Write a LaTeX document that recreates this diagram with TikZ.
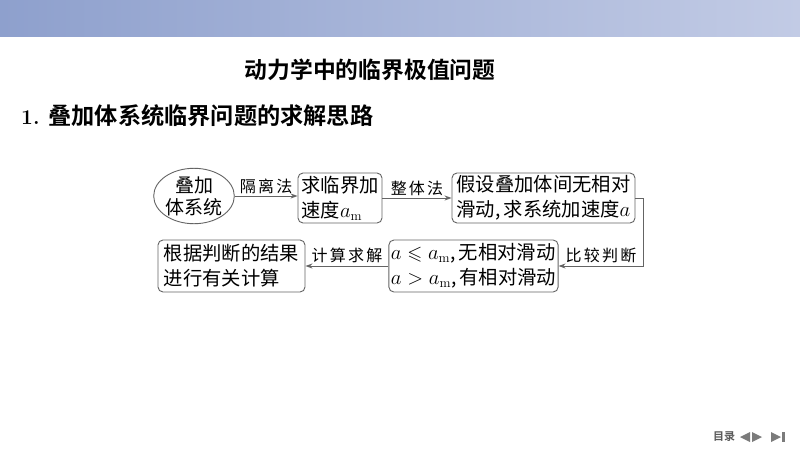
\documentclass[tikz,border=0pt]{standalone}
\usepackage{amssymb}
\usepackage{fontspec}
\usetikzlibrary{arrows.meta,shapes.geometric}
\newfontfamily\cjk{Noto Sans CJK SC}
\newfontfamily\cjkb{Noto Sans CJK SC Bold}
\newfontfamily\cjkl[LetterSpace=14]{Noto Sans CJK SC}
\definecolor{bandL}{RGB}{142,160,205}
\definecolor{bandR}{RGB}{194,203,229}
\definecolor{linegray}{RGB}{100,100,100}
\definecolor{navgray}{RGB}{90,90,90}
\tikzset{
  box/.style={draw=linegray,line width=0.9pt,rounded corners=5pt,align=left,inner sep=2pt,
    font=\cjk\fontsize{19.3}{25}\selectfont},
  ovalbox/.style={draw=linegray,line width=0.9pt,ellipse,align=center,inner sep=0pt,
    minimum width=72pt,minimum height=44pt,font=\cjk\fontsize{19}{22}\selectfont},
  conn/.style={draw=linegray,line width=0.9pt,-{Stealth[length=7pt,width=5pt]}},
  lbl/.style={font=\cjkl\fontsize{16}{18}\selectfont,inner sep=1pt},
}
\begin{document}
\begin{tikzpicture}[x=1pt,y=-1pt]
\useasboundingbox (0,0) rectangle (800,450);
\fill[white] (0,0) rectangle (800,450);
\shade[left color=bandL,right color=bandR] (0,0) rectangle (800,36);
% titles
\node[font=\cjkb\fontsize{22.8}{26}\selectfont,inner sep=0pt] (title) at (370,70) {动力学中的临界极值问题};
\node[font=\cjkb\fontsize{23.2}{26}\selectfont,anchor=west,inner sep=0pt] (sub) at (21,116) {{\rmfamily\bfseries\fontsize{21}{26}\selectfont 1.}\hspace{9pt}叠加体系统临界问题的求解思路};
% diagram
\node[ovalbox] (ell) at (194,196) {叠加\\体系统};
\node[box,minimum width=84pt,minimum height=50pt] (b2) at (340,198) {求临界加\\速度$a_{\mathrm{m}}$};
\node[box,minimum width=183pt,minimum height=50pt] (b3) at (543.5,198) {假设叠加体间无相对\\滑动,\,求系统加速度$a$};
\node[box,minimum width=165pt,minimum height=52pt] (b4) at (473.5,266) {$a\leqslant a_{\mathrm{m}}$,\,无相对滑动\\$a>a_{\mathrm{m}}$,\,有相对滑动};
\node[box,minimum width=147pt,minimum height=52pt] (b5) at (231.5,266) {根据判断的结果\\进行有关计算};
\draw[conn] (ell.east) -- (ell.east -| b2.west) node[lbl,midway,above=1pt] (l1) {隔离法};
\draw[conn] (b2.east) -- (b3.west) node[lbl,midway,above=1pt] (l2) {整体法};
\draw[conn] (b3.east) -- ++(8,0) coordinate (turn) |- (b4.east);
\node[lbl,anchor=south] (l3) at (601,264) {比较判断};
\draw[conn] (b4.west) -- (b5.east) node[lbl,midway,above=2pt] (l4) {计算求解};
% navigation
\node[font=\cjkb\fontsize{11}{12}\selectfont,text=navgray,inner sep=0pt] (nav) at (724,437) {目录};
\fill[navgray!80] (740,437) -- (750,432) -- (750,442) -- cycle;
\fill[navgray!80] (762,437) -- (752,432) -- (752,442) -- cycle;
\fill[navgray!80] (781,437) -- (771,432) -- (771,442) -- cycle;
\fill[navgray!80] (782,432) rectangle (784.5,442);
\end{tikzpicture}
\end{document}
